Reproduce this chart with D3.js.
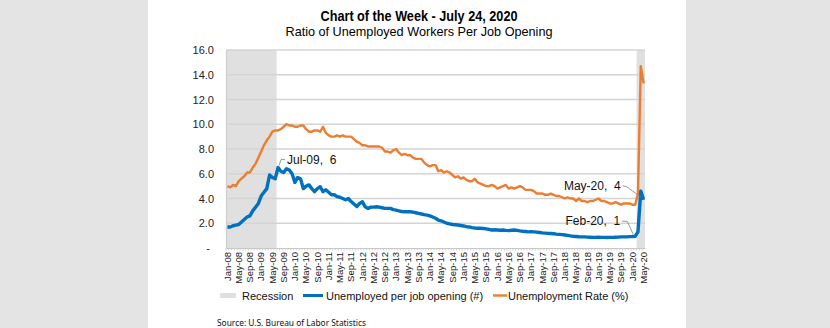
<!DOCTYPE html>
<html><head><meta charset="utf-8">
<script src="https://cdn.jsdelivr.net/npm/d3@7"></script>
<style>
html,body{margin:0;padding:0;background:#e4e4e4;}
svg{display:block;font-family:"Liberation Sans",Arial,sans-serif;}
</style></head><body>
<svg id="chart" width="830" height="328"></svg>
<script>
const years = ["08","09","10","11","12","13","14","15","16","17","18","19","20"];
const monthNames = ["Jan","Feb","Mar","Apr","May","Jun","Jul","Aug","Sep","Oct","Nov","Dec"];
const categories = [];
years.forEach(y => monthNames.forEach((m, i) => { if (!(y === "20" && i > 4)) categories.push(m + "-" + y); }));

const tickLabels = ["Jan-08","May-08","Sep-08","Jan-09","May-09","Sep-09","Jan-10","May-10","Sep-10",
 "Jan-11","May-11","Sep-11","Jan-12","May-12","Sep-12","Jan-13","May-13","Sep-13","Jan-14","May-14","Sep-14",
 "Jan-15","May-15","Sep-15","Jan-16","May-16","Sep-16","Jan-17","May-17","Sep-17","Jan-18","May-18","Sep-18",
 "Jan-19","May-19","Sep-19","Jan-20","May-20"];
const yTicks = [0,2,4,6,8,10,12,14,16];

const unemployedPerOpening = [
 1.7,1.7,1.8,1.85,1.9,2.1,2.3,2.5,2.6,3.0,3.3,3.6,
 4.2,4.5,4.8,5.9,5.7,5.6,6.5,6.2,6.1,6.4,6.3,6.0,
 5.3,5.7,5.6,4.8,5.0,5.1,4.8,4.55,4.8,4.95,4.55,4.7,
 4.5,4.3,4.3,4.15,4.1,4.0,3.9,4.0,3.75,3.55,3.35,3.6,
 3.73,3.33,3.2,3.3,3.3,3.33,3.3,3.25,3.2,3.2,3.2,3.1,
 3.06,3.0,2.95,2.93,2.93,2.93,2.9,2.85,2.8,2.75,2.7,2.66,
 2.6,2.5,2.4,2.26,2.2,2.1,2.0,1.95,1.9,1.88,1.86,1.82,
 1.78,1.72,1.7,1.65,1.62,1.6,1.6,1.58,1.55,1.5,1.45,1.47,
 1.45,1.43,1.45,1.42,1.4,1.43,1.45,1.42,1.38,1.35,1.33,1.3,
 1.31,1.3,1.28,1.25,1.22,1.2,1.18,1.17,1.15,1.12,1.1,1.08,
 1.05,1.02,0.98,0.95,0.93,0.91,0.9,0.9,0.88,0.87,0.86,0.86,
 0.87,0.86,0.86,0.85,0.86,0.86,0.87,0.88,0.9,0.9,0.9,0.92,
 0.93,0.95,1.3,4.6,3.9];

const unemploymentRate = [
 5.0,4.9,5.1,5.0,5.4,5.6,5.8,6.1,6.1,6.5,6.8,7.3,
 7.8,8.3,8.7,9.0,9.4,9.5,9.5,9.6,9.8,10.0,9.9,9.9,
 9.8,9.8,9.9,9.9,9.6,9.4,9.4,9.5,9.5,9.4,9.8,9.3,
 9.1,9.0,9.0,9.1,9.0,9.1,9.0,9.0,9.0,8.8,8.6,8.5,
 8.3,8.3,8.2,8.2,8.2,8.2,8.2,8.1,7.8,7.8,7.7,7.9,
 8.0,7.7,7.5,7.6,7.5,7.5,7.3,7.2,7.2,7.2,6.9,6.7,
 6.6,6.7,6.7,6.2,6.3,6.1,6.2,6.1,5.9,5.7,5.8,5.6,
 5.7,5.5,5.4,5.4,5.6,5.3,5.2,5.1,5.0,5.0,5.1,5.0,
 4.8,4.9,5.0,5.1,4.8,4.9,4.8,4.9,5.0,4.9,4.7,4.7,
 4.7,4.6,4.4,4.4,4.4,4.3,4.3,4.4,4.3,4.2,4.2,4.1,
 4.0,4.1,4.0,4.0,3.8,4.0,3.8,3.8,3.7,3.8,3.8,3.9,
 4.0,3.8,3.8,3.7,3.6,3.6,3.7,3.6,3.5,3.6,3.6,3.6,
 3.5,3.5,4.4,14.7,13.3];

const recessions = [["Jan-08","Jun-09"],["Mar-20","May-20"]];
const annotations = [
  {cat:"Jul-09", label:"Jul-09,\u00a0 6", side:"right"},
  {cat:"May-20", label:"May-20,\u00a0 4", side:"leftHigh"},
  {cat:"Feb-20", label:"Feb-20,\u00a0 1", side:"leftLow"}
];

const svg = d3.select("#chart");
// white panel
svg.append("rect").attr("x",148).attr("y",0).attr("width",538).attr("height",328).attr("fill","#fff");

const M = {left:226, right:645, top:50, bottom:248};
const x = d3.scaleBand().domain(categories).range([M.left, M.right]).paddingInner(0).paddingOuter(0);
const cx = c => x(c) + x.bandwidth()/2;
const y = d3.scaleLinear().domain([0,16]).range([M.bottom, M.top]);

// recession bands
svg.append("g").selectAll("rect").data(recessions).join("rect")
  .attr("x", d => x(d[0]))
  .attr("width", d => x(d[1]) + x.bandwidth() - x(d[0]))
  .attr("y", M.top).attr("height", M.bottom - M.top)
  .attr("fill", "#e0e0e0");

// gridlines
svg.append("g").selectAll("line").data(yTicks.filter(t => t > 0)).join("line")
  .attr("x1", M.left).attr("x2", M.right)
  .attr("y1", d => y(d)).attr("y2", d => y(d))
  .attr("stroke", "#d4d4d4").attr("stroke-width", 1.3);

// y axis
const yAxis = d3.axisLeft(y).tickValues(yTicks).tickSize(0).tickPadding(12)
  .tickFormat(d => d === 0 ? "-" : d3.format(".1f")(d));
const yg = svg.append("g").attr("transform", `translate(${M.left},0)`).call(yAxis);
yg.select(".domain").attr("stroke", "#d0d0d0").attr("stroke-width", 1.3);
yg.selectAll("text").attr("font-size", 11).attr("fill", "#222").attr("font-family", "Liberation Sans, Arial, sans-serif");
yg.selectAll(".tick").filter(d => d === 0).select("text").attr("dx", -4);

// x axis
const xAxis = d3.axisBottom(x).tickValues(tickLabels).tickSize(0).tickPadding(0);
const xg = svg.append("g").attr("transform", `translate(0,${M.bottom})`).call(xAxis);
xg.select(".domain").attr("stroke", "#c8c8c8").attr("stroke-width", 1);
xg.selectAll("text")
  .attr("font-size", 9.5).attr("fill", "#222").attr("font-family", "Liberation Sans, Arial, sans-serif")
  .attr("text-anchor", "end")
  .attr("transform", "rotate(-90)")
  .attr("x", -4).attr("y", 0).attr("dy", "0.35em");
// minor monthly ticks
svg.append("g").selectAll("line").data(categories).join("line")
  .attr("x1", d => x(d)).attr("x2", d => x(d))
  .attr("y1", M.bottom).attr("y2", M.bottom + 2.5)
  .attr("stroke", "#c8c8c8").attr("stroke-width", 0.8);

// lines
const line = d3.line().x((d, i) => cx(categories[i])).y(d => y(d)).curve(d3.curveLinear);
svg.append("path").datum(unemploymentRate).attr("d", line)
  .attr("fill", "none").attr("stroke", "#ed7d31").attr("stroke-width", 2.4).attr("stroke-linejoin","round");
svg.append("path").datum(unemployedPerOpening).attr("d", line)
  .attr("fill", "none").attr("stroke", "#0070c0").attr("stroke-width", 3.4).attr("stroke-linejoin","round");

// annotations
const ag = svg.append("g").attr("font-size", 12).attr("fill", "#111");
annotations.forEach(a => {
  const i = categories.indexOf(a.cat);
  const px = cx(a.cat), py = y(unemployedPerOpening[i]);
  let pts, tx, ty, anchor;
  if (a.side === "right") {
    pts = [[px+1, py-2],[px+3, py-8],[px+7, py-8]];
    tx = px + 9; ty = py - 4; anchor = "start";
  } else if (a.side === "leftHigh") {
    pts = [[px-21, py-14],[px-17, py-13],[px-3, py-3]];
    tx = px - 23; ty = py - 9.5; anchor = "end";
  } else {
    pts = [[px-13, py-15],[px-8, py-15],[px-2, py-2]];
    tx = px - 15; ty = py - 11; anchor = "end";
  }
  svg.append("path").attr("d", d3.line()(pts)).attr("fill","none").attr("stroke","#7f7f7f").attr("stroke-width",0.8);
  ag.append("text").attr("x", tx).attr("y", ty).attr("text-anchor", anchor).text(a.label);
});

// title
svg.append("text").attr("x", 419).attr("y", 21).attr("text-anchor","middle")
  .attr("font-size", 14).attr("font-weight","bold").attr("fill","#000")
  .attr("textLength", 197).attr("lengthAdjust","spacingAndGlyphs")
  .text("Chart of the Week - July 24, 2020");
svg.append("text").attr("x", 419).attr("y", 36).attr("text-anchor","middle")
  .attr("font-size", 13).attr("fill","#000")
  .attr("textLength", 267).attr("lengthAdjust","spacingAndGlyphs")
  .text("Ratio of Unemployed Workers Per Job Opening");

// legend
const lg = svg.append("g").attr("font-size", 11).attr("fill", "#111");
lg.append("rect").attr("x",220).attr("y",293).attr("width",16).attr("height",5).attr("fill","#e0e0e0");
lg.append("text").attr("x",242).attr("y",299.5).text("Recession");
lg.append("line").attr("x1",303).attr("x2",323).attr("y1",295.5).attr("y2",295.5).attr("stroke","#0070c0").attr("stroke-width",3);
lg.append("text").attr("x",326).attr("y",299.5).text("Unemployed per job opening (#)");
lg.append("line").attr("x1",493).attr("x2",507).attr("y1",295.5).attr("y2",295.5).attr("stroke","#ed7d31").attr("stroke-width",2.4);
lg.append("text").attr("x",508).attr("y",299.5).text("Unemployment Rate (%)");

// source
svg.append("text").attr("x",217).attr("y",325.5).attr("font-size",8)
  .attr("font-family","Noto Sans, Open Sans, sans-serif").attr("fill","#111")
  .attr("textLength",149).attr("lengthAdjust","spacingAndGlyphs")
  .text("Source: U.S. Bureau of Labor Statistics");
</script>
</body></html>
